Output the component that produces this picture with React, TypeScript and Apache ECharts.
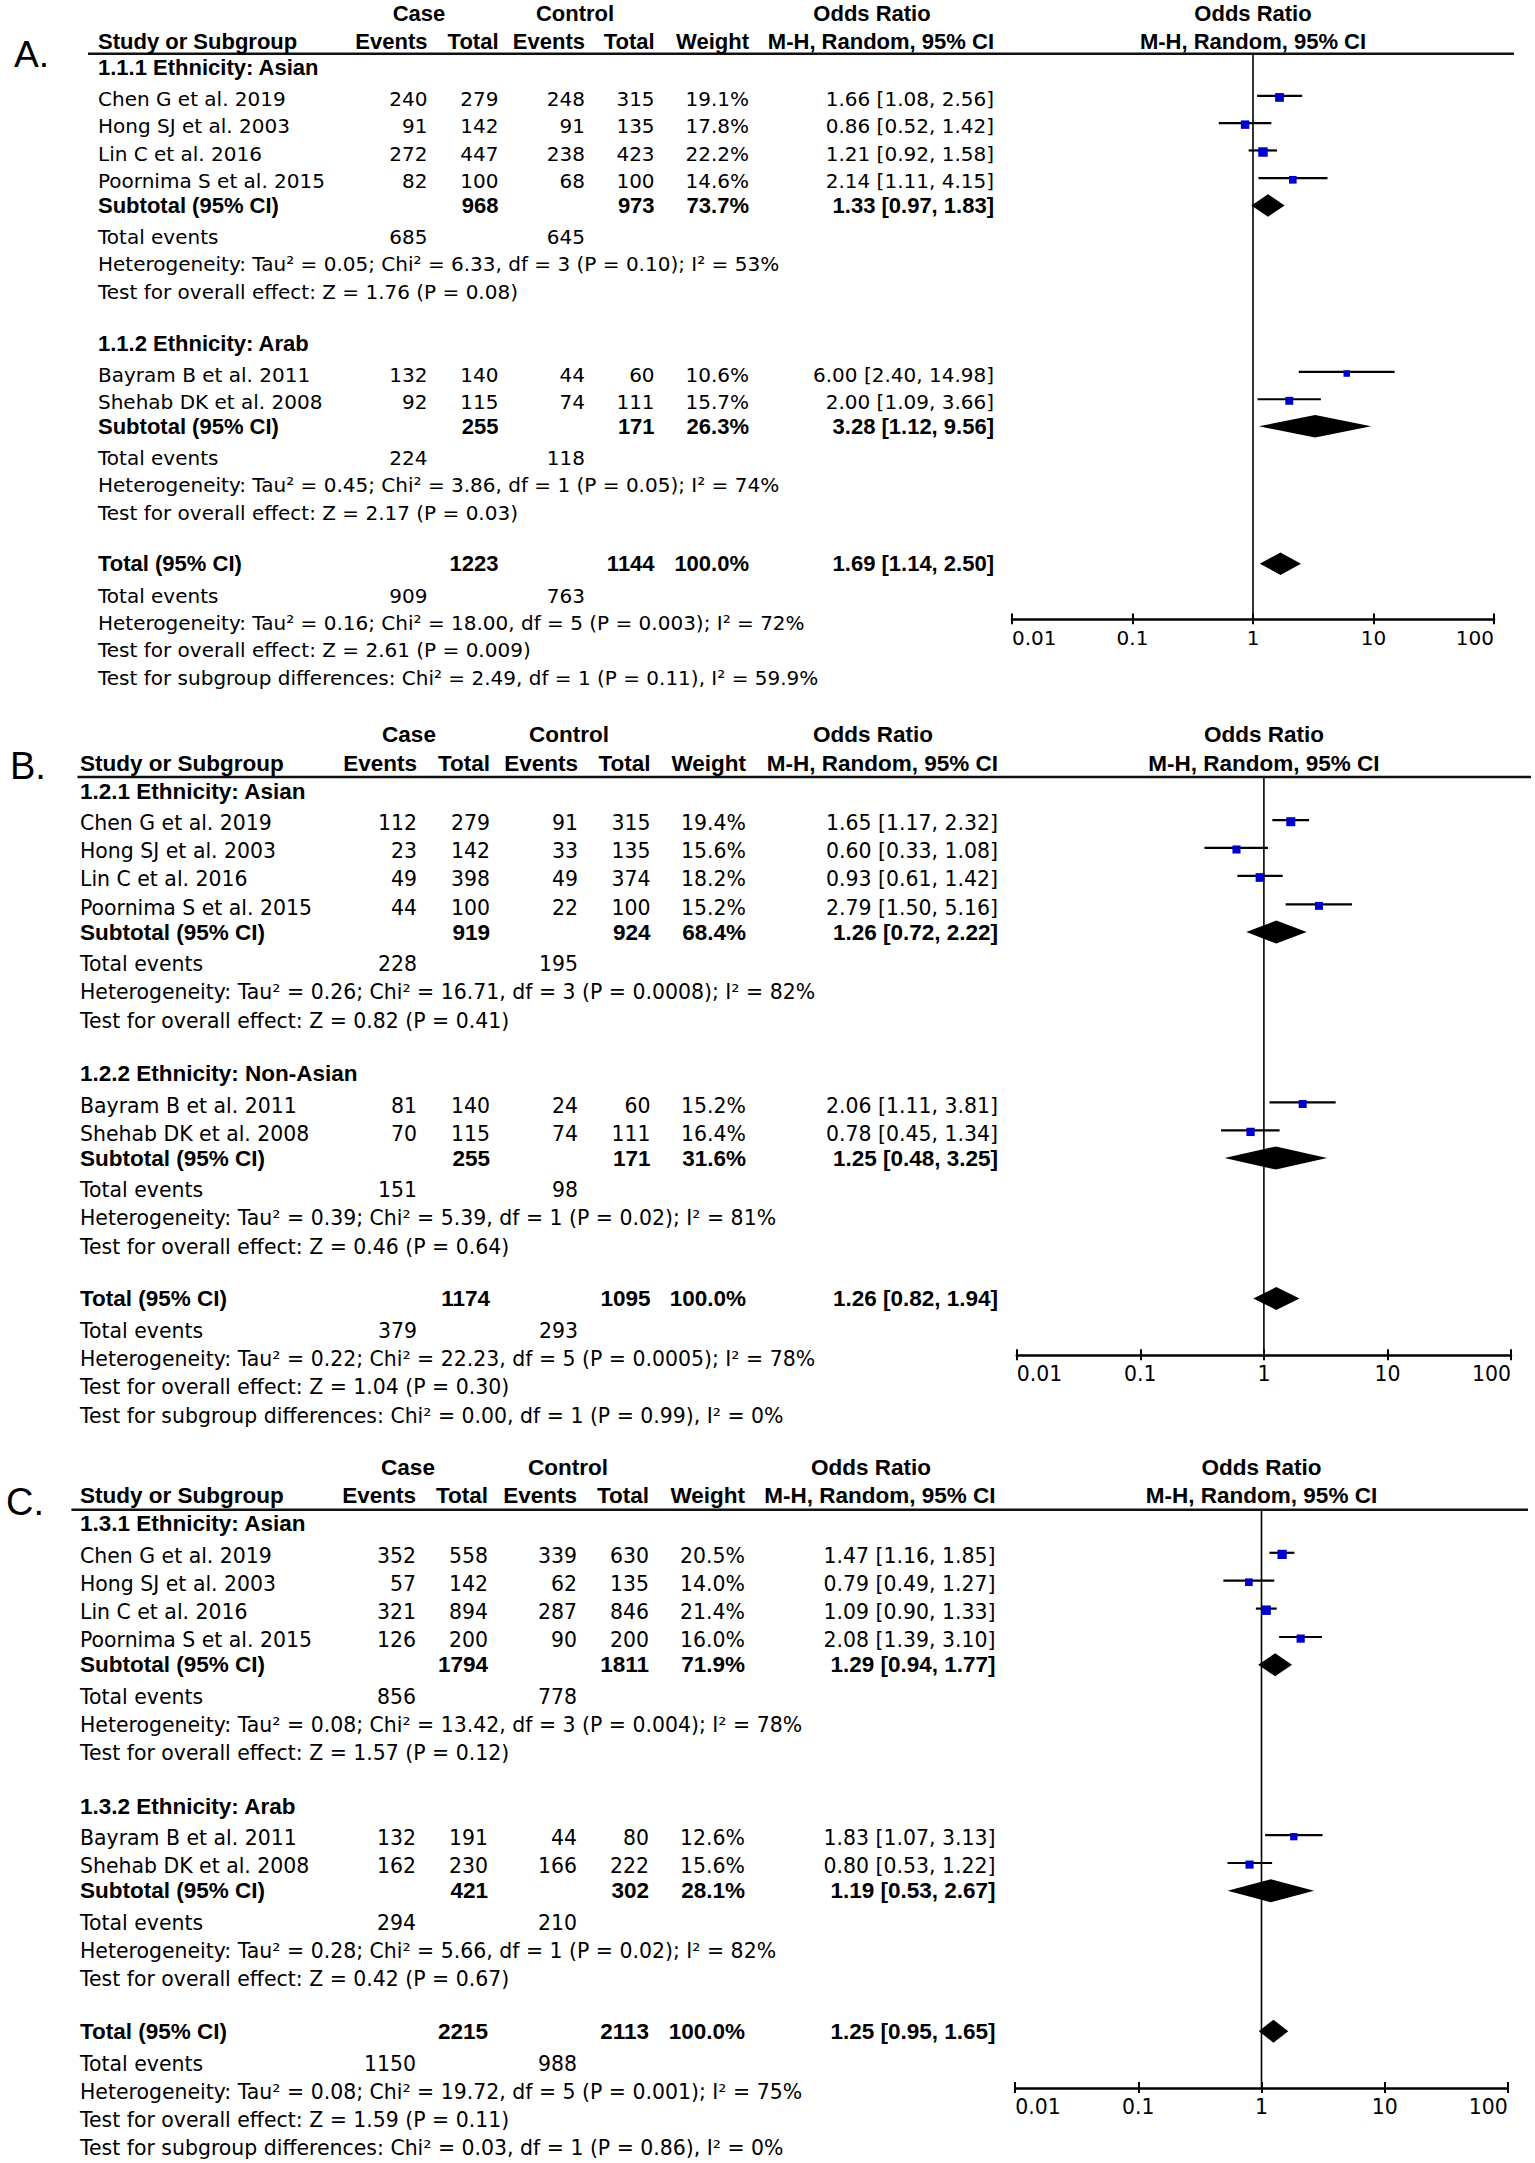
import React, { useEffect, useRef } from "react";
import * as echarts from "echarts";

const FONT_REG = "'DejaVu Sans', Verdana, sans-serif";
const FONT_BOLD = "'Liberation Sans', Arial, Helvetica, sans-serif";

// ---------- shared labels ----------
const tickValues = [0.01, 0.1, 1, 10, 100];
const tickLabels = ["0.01", "0.1", "1", "10", "100"];
const headerRow1 = ["Case", "Control", "Odds Ratio", "Odds Ratio"];
const headerRow2 = ["Study or Subgroup", "Events", "Total", "Events", "Total", "Weight", "M-H, Random, 95% CI", "M-H, Random, 95% CI"];
const panelLetters = ["A.", "B.", "C."];
const studyNames = ["Chen G et al. 2019", "Hong SJ et al. 2003", "Lin C et al. 2016", "Poornima S et al. 2015", "Bayram B et al. 2011", "Shehab DK et al. 2008"];
const groupOfStudy = [0, 0, 0, 0, 1, 1];

// ---------- Panel A ----------
const groupTitlesA = ["1.1.1 Ethnicity: Asian", "1.1.2 Ethnicity: Arab"];
const caseEventsA = [240, 91, 272, 82, 132, 92];
const caseTotalA = [279, 142, 447, 100, 140, 115];
const ctrlEventsA = [248, 91, 238, 68, 44, 74];
const ctrlTotalA = [315, 135, 423, 100, 60, 111];
const weightA = [19.1, 17.8, 22.2, 14.6, 10.6, 15.7];
const orA = [1.66, 0.86, 1.21, 2.14, 6.0, 2.0];
const loA = [1.08, 0.52, 0.92, 1.11, 2.4, 1.09];
const hiA = [2.56, 1.42, 1.58, 4.15, 14.98, 3.66];
const pooledCaseTotalA = [968, 255, 1223];
const pooledCtrlTotalA = [973, 171, 1144];
const pooledWeightA = [73.7, 26.3, 100.0];
const pooledOrA = [1.33, 3.28, 1.69];
const pooledLoA = [0.97, 1.12, 1.14];
const pooledHiA = [1.83, 9.56, 2.5];
const totalEventsCaseA = [685, 224, 909];
const totalEventsCtrlA = [645, 118, 763];
const heterogeneityA = [
  "Tau\u00b2 = 0.05; Chi\u00b2 = 6.33, df = 3 (P = 0.10); I\u00b2 = 53%",
  "Tau\u00b2 = 0.45; Chi\u00b2 = 3.86, df = 1 (P = 0.05); I\u00b2 = 74%",
  "Tau\u00b2 = 0.16; Chi\u00b2 = 18.00, df = 5 (P = 0.003); I\u00b2 = 72%",
];
const overallEffectA = ["Z = 1.76 (P = 0.08)", "Z = 2.17 (P = 0.03)", "Z = 2.61 (P = 0.009)"];
const subgroupDiffA = "Chi\u00b2 = 2.49, df = 1 (P = 0.11), I\u00b2 = 59.9%";

// ---------- Panel B ----------
const groupTitlesB = ["1.2.1 Ethnicity: Asian", "1.2.2 Ethnicity: Non-Asian"];
const caseEventsB = [112, 23, 49, 44, 81, 70];
const caseTotalB = [279, 142, 398, 100, 140, 115];
const ctrlEventsB = [91, 33, 49, 22, 24, 74];
const ctrlTotalB = [315, 135, 374, 100, 60, 111];
const weightB = [19.4, 15.6, 18.2, 15.2, 15.2, 16.4];
const orB = [1.65, 0.6, 0.93, 2.79, 2.06, 0.78];
const loB = [1.17, 0.33, 0.61, 1.5, 1.11, 0.45];
const hiB = [2.32, 1.08, 1.42, 5.16, 3.81, 1.34];
const pooledCaseTotalB = [919, 255, 1174];
const pooledCtrlTotalB = [924, 171, 1095];
const pooledWeightB = [68.4, 31.6, 100.0];
const pooledOrB = [1.26, 1.25, 1.26];
const pooledLoB = [0.72, 0.48, 0.82];
const pooledHiB = [2.22, 3.25, 1.94];
const totalEventsCaseB = [228, 151, 379];
const totalEventsCtrlB = [195, 98, 293];
const heterogeneityB = [
  "Tau\u00b2 = 0.26; Chi\u00b2 = 16.71, df = 3 (P = 0.0008); I\u00b2 = 82%",
  "Tau\u00b2 = 0.39; Chi\u00b2 = 5.39, df = 1 (P = 0.02); I\u00b2 = 81%",
  "Tau\u00b2 = 0.22; Chi\u00b2 = 22.23, df = 5 (P = 0.0005); I\u00b2 = 78%",
];
const overallEffectB = ["Z = 0.82 (P = 0.41)", "Z = 0.46 (P = 0.64)", "Z = 1.04 (P = 0.30)"];
const subgroupDiffB = "Chi\u00b2 = 0.00, df = 1 (P = 0.99), I\u00b2 = 0%";

// ---------- Panel C ----------
const groupTitlesC = ["1.3.1 Ethnicity: Asian", "1.3.2 Ethnicity: Arab"];
const caseEventsC = [352, 57, 321, 126, 132, 162];
const caseTotalC = [558, 142, 894, 200, 191, 230];
const ctrlEventsC = [339, 62, 287, 90, 44, 166];
const ctrlTotalC = [630, 135, 846, 200, 80, 222];
const weightC = [20.5, 14.0, 21.4, 16.0, 12.6, 15.6];
const orC = [1.47, 0.79, 1.09, 2.08, 1.83, 0.8];
const loC = [1.16, 0.49, 0.9, 1.39, 1.07, 0.53];
const hiC = [1.85, 1.27, 1.33, 3.1, 3.13, 1.22];
const pooledCaseTotalC = [1794, 421, 2215];
const pooledCtrlTotalC = [1811, 302, 2113];
const pooledWeightC = [71.9, 28.1, 100.0];
const pooledOrC = [1.29, 1.19, 1.25];
const pooledLoC = [0.94, 0.53, 0.95];
const pooledHiC = [1.77, 2.67, 1.65];
const totalEventsCaseC = [856, 294, 1150];
const totalEventsCtrlC = [778, 210, 988];
const heterogeneityC = [
  "Tau\u00b2 = 0.08; Chi\u00b2 = 13.42, df = 3 (P = 0.004); I\u00b2 = 78%",
  "Tau\u00b2 = 0.28; Chi\u00b2 = 5.66, df = 1 (P = 0.02); I\u00b2 = 82%",
  "Tau\u00b2 = 0.08; Chi\u00b2 = 19.72, df = 5 (P = 0.001); I\u00b2 = 75%",
];
const overallEffectC = ["Z = 1.57 (P = 0.12)", "Z = 0.42 (P = 0.67)", "Z = 1.59 (P = 0.11)"];
const subgroupDiffC = "Chi\u00b2 = 0.03, df = 1 (P = 0.86), I\u00b2 = 0%";

const panels = [
  { groupTitles: groupTitlesA, ce: caseEventsA, ct: caseTotalA, ke: ctrlEventsA, kt: ctrlTotalA, w: weightA, or: orA, lo: loA, hi: hiA,
    pCt: pooledCaseTotalA, pKt: pooledCtrlTotalA, pW: pooledWeightA, pOr: pooledOrA, pLo: pooledLoA, pHi: pooledHiA,
    teC: totalEventsCaseA, teK: totalEventsCtrlA, het: heterogeneityA, eff: overallEffectA, sg: subgroupDiffA },
  { groupTitles: groupTitlesB, ce: caseEventsB, ct: caseTotalB, ke: ctrlEventsB, kt: ctrlTotalB, w: weightB, or: orB, lo: loB, hi: hiB,
    pCt: pooledCaseTotalB, pKt: pooledCtrlTotalB, pW: pooledWeightB, pOr: pooledOrB, pLo: pooledLoB, pHi: pooledHiB,
    teC: totalEventsCaseB, teK: totalEventsCtrlB, het: heterogeneityB, eff: overallEffectB, sg: subgroupDiffB },
  { groupTitles: groupTitlesC, ce: caseEventsC, ct: caseTotalC, ke: ctrlEventsC, kt: ctrlTotalC, w: weightC, or: orC, lo: loC, hi: hiC,
    pCt: pooledCaseTotalC, pKt: pooledCtrlTotalC, pW: pooledWeightC, pOr: pooledOrC, pLo: pooledLoC, pHi: pooledHiC,
    teC: totalEventsCaseC, teK: totalEventsCtrlC, het: heterogeneityC, eff: overallEffectC, sg: subgroupDiffC },
];

// ---------- layout (pixels) ----------
const ROW = {
  head1: -88.6, head2: -60.3, line: -46.3, g1: -32.3,
  studies: [[0, 27.8, 55.8, 84.2], [282.3, 310.2]],
  g2: 250,
  sub: [108.8, 334.7, 475.2],
  te: [140.7, 367, 507.7],
  het: [168.7, 394.7, 535.7],
  eff: [197.2, 423.2, 563.7],
  sg: 592.2,
  axis: 532,
};

const layouts = [
  { chenY: 99, s: 0.978, headShift: 1.5, letterX: 14, letterY: 54, labelX: 98, colR: [427.5, 498.5, 585, 654.6, 749, 994], caseC: 419, ctrlC: 575, orHeadC: 872, lineX0: 88, lineX1: 1514, axisX0: 1012, axisX1: 1494 },
  { chenY: 823.3, s: 1, headShift: 0, letterX: 10, letterY: 766, labelX: 80, colR: [417, 490, 578, 650.5, 746, 998], caseC: 409, ctrlC: 569, orHeadC: 873, lineX0: 77.5, lineX1: 1531, axisX0: 1016.8, axisX1: 1511 },
  { chenY: 1556, s: 1, headShift: 0, letterX: 6, letterY: 1502, labelX: 80, colR: [416, 488, 577, 649, 745, 995.5], caseC: 408, ctrlC: 568, orHeadC: 871, lineX0: 71.4, lineX1: 1528, axisX0: 1015.2, axisX1: 1507.8 },
];

const fmtOR = (o: number, l: number, h: number) => `${o.toFixed(2)} [${l.toFixed(2)}, ${h.toFixed(2)}]`;
const fmtW = (w: number) => `${w.toFixed(1)}%`;
const labelFor = (v: number) => {
  const i = tickValues.findIndex((t) => Math.abs(Math.log10(t) - Math.log10(v)) < 1e-6);
  return i >= 0 ? tickLabels[i] : "";
};

function buildOption() {
  const grid: any[] = [];
  const xAxis: any[] = [];
  const yAxis: any[] = [];
  const series: any[] = [];
  const graphic: any[] = [];

  panels.forEach((P, p) => {
    const L = layouts[p];
    const s = L.s;
    const Y = (o: number) => L.chenY + o * s;
    const regFs = 20.45 * s;
    const boldFs = 22.5 * s;
    const one = (L.axisX0 + L.axisX1) / 2;
    const top = Y(ROW.line);
    const bottom = Y(ROW.axis);

    const txt = (x: number, y: number, text: string, align = "left", bold = false, size?: number, family?: string) => ({
      type: "text", x, y, silent: true,
      style: { text, fill: "#000", fontSize: size ?? (bold ? boldFs : regFs), fontWeight: bold ? "bold" : "normal",
        fontFamily: family ?? (bold ? FONT_BOLD : FONT_REG),
        align, textAlign: align, verticalAlign: "middle", textVerticalAlign: "middle" },
    });

    // grid + axes
    grid.push({ left: L.axisX0, top, width: L.axisX1 - L.axisX0, height: bottom - top });
    const axisBase = { type: "log", logBase: 10, min: 0.01, max: 100, gridIndex: p, position: "bottom",
      splitLine: { show: false }, minorTick: { show: false }, minorSplitLine: { show: false } };
    xAxis.push({ ...axisBase,
      axisLine: { show: true, onZero: false, lineStyle: { color: "#000", width: 2.5 } },
      axisTick: { show: true, inside: false, length: 5 * s, lineStyle: { color: "#000", width: 2 } },
      axisLabel: { show: true, margin: 8.5 * s, color: "#000", fontSize: regFs, fontFamily: FONT_REG,
        formatter: (v: number) => labelFor(v), showMinLabel: true, showMaxLabel: true,
        alignMinLabel: "left", alignMaxLabel: "right" } });
    xAxis.push({ ...axisBase,
      axisLine: { show: false, onZero: false },
      axisTick: { show: true, inside: true, length: 6 * s, lineStyle: { color: "#000", width: 2 } },
      axisLabel: { show: false } });
    yAxis.push({ type: "value", gridIndex: p, min: top, max: bottom, inverse: true, show: false });

    // reference line at OR = 1
    series.push({ type: "line", xAxisIndex: 2 * p, yAxisIndex: p, data: [[1, top], [1, bottom]],
      symbol: "none", silent: true, lineStyle: { color: "#000", width: 1.6 }, z: 1 });

    // studies
    const counters = [0, 0];
    const studyData = studyNames.map((_, i) => {
      const g = groupOfStudy[i];
      const rowY = Y(ROW.studies[g][counters[g]++]);
      return [P.or[i], P.lo[i], P.hi[i], rowY, P.w[i]];
    });
    series.push({ type: "custom", xAxisIndex: 2 * p, yAxisIndex: p, data: studyData, silent: true, z: 3,
      renderItem: (_params: any, api: any) => {
        const y = api.value(3);
        const pL = api.coord([api.value(1), y]);
        const pR = api.coord([api.value(2), y]);
        const pC = api.coord([api.value(0), y]);
        const side = 2.05 * Math.sqrt(api.value(4)) * s;
        const ly = pL[1] - 3.2 * s;
        const cy = pC[1] - 1.6 * s;
        return { type: "group", children: [
          { type: "line", shape: { x1: pL[0], y1: ly, x2: pR[0], y2: ly }, style: { stroke: "#000", lineWidth: 2.2 } },
          { type: "rect", shape: { x: pC[0] - side / 2, y: cy - side / 2, width: side, height: side }, style: { fill: "#0000CC" } },
        ] };
      } });

    // diamonds
    const diamondData = P.pOr.map((o, k) => [o, P.pLo[k], P.pHi[k], Y(ROW.sub[k])]);
    series.push({ type: "custom", xAxisIndex: 2 * p, yAxisIndex: p, data: diamondData, silent: true, z: 3,
      renderItem: (_params: any, api: any) => {
        const y = api.value(3);
        const pL = api.coord([api.value(1), y]);
        const pR = api.coord([api.value(2), y]);
        const pC = api.coord([api.value(0), y]);
        const h = 11.5 * s;
        return { type: "polygon", shape: { points: [[pL[0], pL[1]], [pC[0], pC[1] - h], [pR[0], pR[1]], [pC[0], pC[1] + h]] },
          style: { fill: "#000" } };
      } });

    // header rule
    graphic.push({ type: "line", silent: true, shape: { x1: L.lineX0, y1: top, x2: L.lineX1, y2: top },
      style: { stroke: "#111", lineWidth: 2.6 } });

    // letter
    graphic.push(txt(L.letterX, L.letterY, panelLetters[p], "left", false, 38 * s, FONT_BOLD));

    // headers
    const h1 = Y(ROW.head1) + L.headShift, h2 = Y(ROW.head2) + L.headShift;
    graphic.push(txt(L.caseC, h1, headerRow1[0], "center", true));
    graphic.push(txt(L.ctrlC, h1, headerRow1[1], "center", true));
    graphic.push(txt(L.orHeadC, h1, headerRow1[2], "center", true));
    graphic.push(txt(one, h1, headerRow1[3], "center", true));
    graphic.push(txt(L.labelX, h2, headerRow2[0], "left", true));
    for (let c = 0; c < 6; c++) graphic.push(txt(L.colR[c], h2, headerRow2[c + 1], "right", true));
    graphic.push(txt(one, h2, headerRow2[7], "center", true));

    // groups
    [0, 1].forEach((g) => {
      graphic.push(txt(L.labelX, Y(g === 0 ? ROW.g1 : ROW.g2), P.groupTitles[g], "left", true));
    });
    const cnt = [0, 0];
    studyNames.forEach((name, i) => {
      const g = groupOfStudy[i];
      const y = Y(ROW.studies[g][cnt[g]++]);
      graphic.push(txt(L.labelX, y, name));
      graphic.push(txt(L.colR[0], y, String(P.ce[i]), "right"));
      graphic.push(txt(L.colR[1], y, String(P.ct[i]), "right"));
      graphic.push(txt(L.colR[2], y, String(P.ke[i]), "right"));
      graphic.push(txt(L.colR[3], y, String(P.kt[i]), "right"));
      graphic.push(txt(L.colR[4], y, fmtW(P.w[i]), "right"));
      graphic.push(txt(L.colR[5], y, fmtOR(P.or[i], P.lo[i], P.hi[i]), "right"));
    });
    [0, 1, 2].forEach((k) => {
      const ys = Y(ROW.sub[k]);
      graphic.push(txt(L.labelX, ys, k < 2 ? "Subtotal (95% CI)" : "Total (95% CI)", "left", true));
      graphic.push(txt(L.colR[1], ys, String(P.pCt[k]), "right", true));
      graphic.push(txt(L.colR[3], ys, String(P.pKt[k]), "right", true));
      graphic.push(txt(L.colR[4], ys, fmtW(P.pW[k]), "right", true));
      graphic.push(txt(L.colR[5], ys, fmtOR(P.pOr[k], P.pLo[k], P.pHi[k]), "right", true));
      const yt = Y(ROW.te[k]);
      graphic.push(txt(L.labelX, yt, "Total events"));
      graphic.push(txt(L.colR[0], yt, String(P.teC[k]), "right"));
      graphic.push(txt(L.colR[2], yt, String(P.teK[k]), "right"));
      graphic.push(txt(L.labelX, Y(ROW.het[k]), "Heterogeneity: " + P.het[k]));
      graphic.push(txt(L.labelX, Y(ROW.eff[k]), "Test for overall effect: " + P.eff[k]));
    });
    graphic.push(txt(L.labelX, Y(ROW.sg), "Test for subgroup differences: " + P.sg));
  });

  return { animation: false, backgroundColor: "#fff", grid, xAxis, yAxis, series, graphic };
}

export default function App() {
  const ref = useRef<HTMLDivElement>(null);
  useEffect(() => {
    if (!ref.current) return;
    const chart = echarts.init(ref.current, undefined, { renderer: "svg" });
    chart.setOption(buildOption() as any);
    return () => chart.dispose();
  }, []);
  return (
    <div ref={ref} style={{ position: "absolute", left: 0, top: 0, width: 1535, height: 2163, background: "#fff" }} />
  );
}
